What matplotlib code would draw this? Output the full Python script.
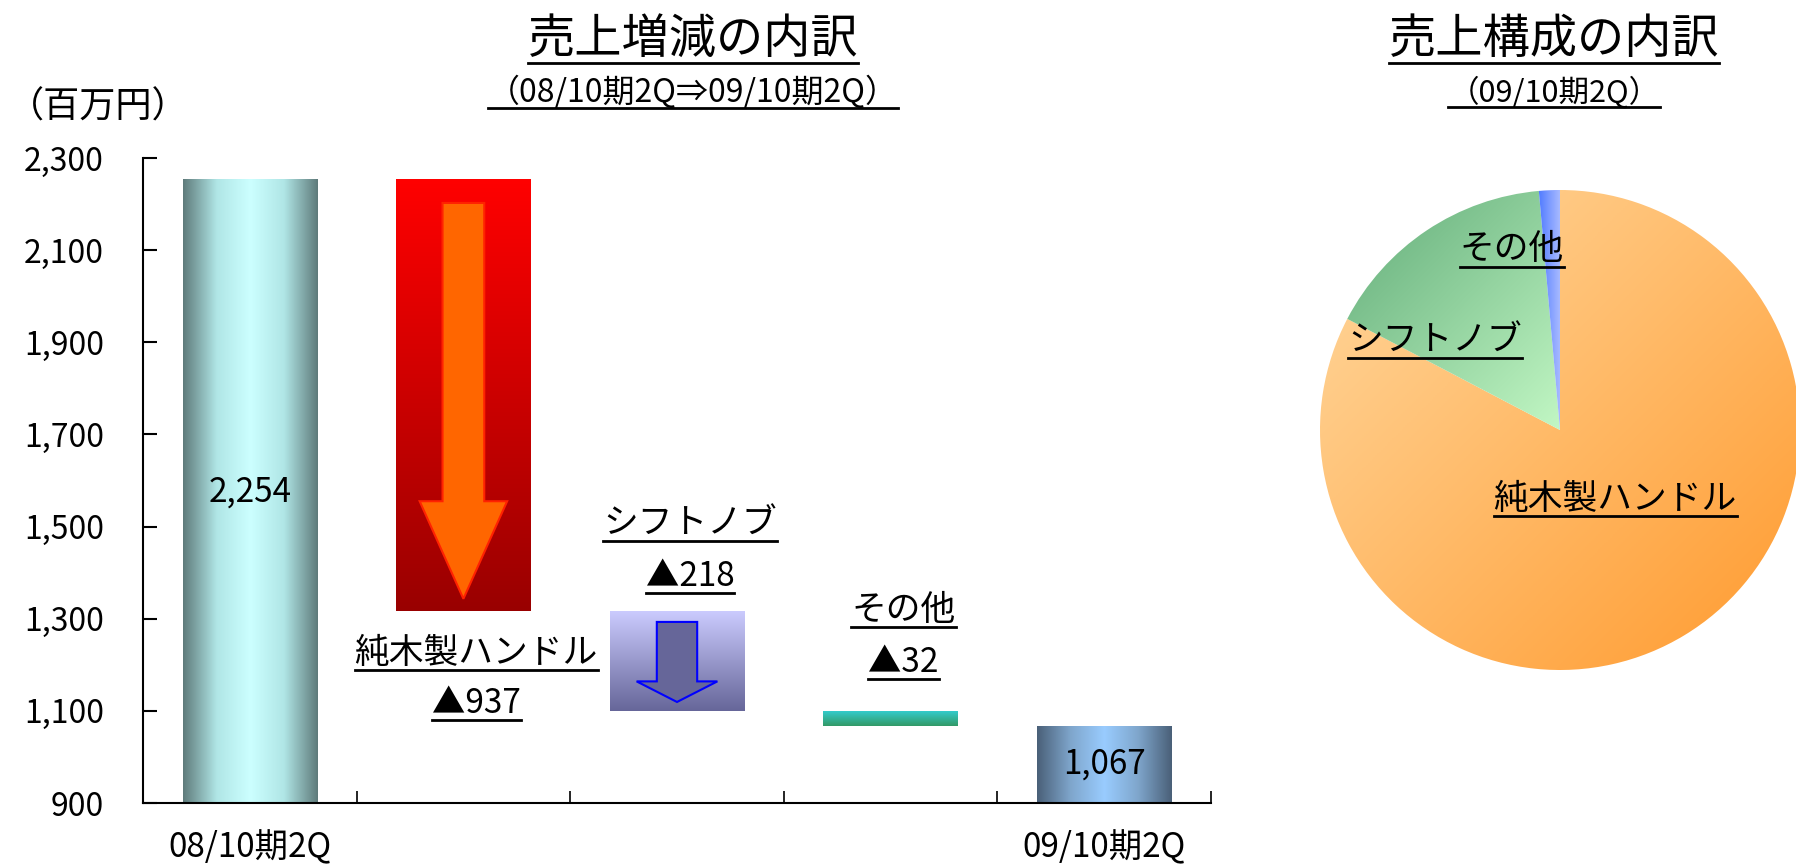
import numpy as np
import matplotlib.pyplot as plt
from matplotlib.colors import LinearSegmentedColormap
from matplotlib.patches import FancyArrow
from matplotlib.lines import Line2D

plt.rcParams['font.family'] = ['Noto Sans CJK JP', 'DejaVu Sans']

# waterfall data (百万円)
start_label = '08/10期2Q'
end_label = '09/10期2Q'
start_value = 2254
end_value = 1067
change_names = ['純木製ハンドル', 'シフトノブ', 'その他']
change_values = [-937, -218, -32]

# composition of 09/10期2Q
pie_names = ['純木製ハンドル', 'シフトノブ', 'その他']
pie_values = [882, 170, 15]

W, H = 1796, 865
fig = plt.figure(figsize=(W / 100, H / 100), dpi=100)
ax = fig.add_axes([143 / W, 1 - 803 / H, 1068 / W, (803 - 158) / H])

n = len(change_values) + 2
x = np.arange(n)
ymin, ymax = 900, 2300

# build bottoms / tops of floating bars
tops = [start_value]
bottoms = [0]
level = start_value
for v in change_values:
    tops.append(level)
    bottoms.append(level + v)
    level += v
tops.append(end_value)
bottoms.append(0)
tops = np.array(tops)
bottoms = np.array(bottoms)

bars = ax.bar(x, tops - bottoms, bottom=bottoms, width=0.63, color='none', zorder=2)


def grad_fill(patch, colors, horizontal=True, zorder=1):
    cmap = LinearSegmentedColormap.from_list('g', colors)
    if horizontal:
        img = np.linspace(0, 1, 256).reshape(1, -1)
    else:
        img = np.linspace(0, 1, 256).reshape(-1, 1)
    x0, y0 = patch.get_x(), patch.get_y()
    w, h = patch.get_width(), patch.get_height()
    im = ax.imshow(img, cmap=cmap, aspect='auto', origin='upper',
                   extent=[x0, x0 + w, max(y0, ymin), y0 + h], zorder=zorder,
                   interpolation='bilinear')
    im.set_clip_path(patch)


grad_fill(bars[0], ['#5f7b7b', '#b0e6e6', '#ccffff', '#b0e6e6', '#5f7b7b'])
grad_fill(bars[1], ['#ff0000', '#990000'], horizontal=False)
grad_fill(bars[2], ['#ccccff', '#666699'], horizontal=False)
grad_fill(bars[3], ['#33cccc', '#339966'], horizontal=False)
grad_fill(bars[4], ['#4a6078', '#7fa6cc', '#99ccff', '#7fa6cc', '#4a6078'])


def down_arrow(patch, top_off, bot_off, shaft, head, head_len, fc, ec):
    x0, y0 = patch.get_x(), patch.get_y()
    w, h = patch.get_width(), patch.get_height()
    cx = x0 + w / 2
    ystart = y0 + h - top_off * h
    yend = y0 + bot_off * h
    arr = FancyArrow(cx, ystart, 0, yend - ystart, width=shaft * w, head_width=head * w,
                     head_length=head_len * h, length_includes_head=True,
                     facecolor=fc, edgecolor=ec, linewidth=1.5, zorder=3)
    ax.add_patch(arr)


down_arrow(bars[1], 0.055, 0.028, 0.31, 0.65, 0.226, '#ff6600', '#ff2200')
down_arrow(bars[2], 0.11, 0.093, 0.30, 0.60, 0.205, '#666699', '#0000ff')

ax.set_xlim(-0.5, n - 0.5)
ax.set_ylim(ymin, ymax)
ax.set_yticks(np.arange(ymin, ymax + 1, 200))
ax.set_yticklabels([f'{v:,}' for v in np.arange(ymin, ymax + 1, 200)], fontsize=23)
ax.set_xticks(np.arange(n + 1) - 0.5)
ax.set_xticklabels([])
ax.tick_params(axis='y', direction='in', length=10, width=1.5, pad=28)
ax.tick_params(axis='x', direction='in', length=9, width=1.2)
for s in ['top', 'right']:
    ax.spines[s].set_visible(False)
ax.spines['left'].set_linewidth(1.5)
ax.spines['bottom'].set_linewidth(1.5)

# category labels under first and last bar
ax.text(0, -0.07, start_label, transform=ax.get_xaxis_transform(), ha='center', va='center', fontsize=24)
ax.text(n - 1, -0.07, end_label, transform=ax.get_xaxis_transform(), ha='center', va='center', fontsize=24)

# value labels inside bars
ax.text(0, 1575, f'{start_value:,}', ha='center', va='center', fontsize=24, zorder=4)
ax.text(n - 1, 985, f'{end_value:,}', ha='center', va='center', fontsize=24, zorder=4)

underlined = []
label_pos = [(1, 1225, 1115), (2, 1505, 1392), (3, 1317, 1205)]
for (xi, y1, y2), name, v in zip(label_pos, change_names, change_values):
    dx = 0.06
    underlined.append(ax.text(xi + dx, y1, name, ha='center', va='center', fontsize=25))
    underlined.append(ax.text(xi + dx, y2, f'▲{-v}', ha='center', va='center', fontsize=24))

# titles
underlined.append(fig.text(693 / W, 1 - 40 / H, '売上増減の内訳', ha='center', va='center', fontsize=34))
underlined.append(fig.text(693 / W, 1 - 92 / H, '（08/10期2Q⇒09/10期2Q）', ha='center', va='center', fontsize=23))
fig.text(8 / W, 1 - 108 / H, '（百万円）', ha='left', va='center', fontsize=26)
underlined.append(fig.text(1554 / W, 1 - 40 / H, '売上構成の内訳', ha='center', va='center', fontsize=34))
underlined.append(fig.text(1554 / W, 1 - 92 / H, '（09/10期2Q）', ha='center', va='center', fontsize=22))

# pie
pax = fig.add_axes([1320 / W, 1 - 670 / H, 480 / W, 480 / H])
wedges, _ = pax.pie(pie_values, startangle=90, counterclock=False, radius=1,
                    colors=['none'] * 3, wedgeprops=dict(linewidth=0))
pax.set_xlim(-1, 1)
pax.set_ylim(-1, 1)
pax.set_aspect('equal')
pax.axis('off')

diag = np.add.outer(np.linspace(0, 1, 256), np.linspace(0, 1, 256)) / 2
pie_cmaps = [
    (['#ffd9a0', '#ff9a2e'], diag, [-1, 1, -1, 1]),
    (['#5aa673', '#ccffcc'], diag, [-1.0, 0.1, -0.1, 1.02]),
    (['#3366ff', '#b3c2ff'], np.linspace(0, 1, 64).reshape(1, -1), [-0.12, 0.01, -0.02, 1.02]),
]
for wdg, (cols, img, ext) in zip(wedges, pie_cmaps):
    cmap = LinearSegmentedColormap.from_list('p', cols)
    im = pax.imshow(img, cmap=cmap, extent=ext, origin='upper', aspect='auto',
                    interpolation='bilinear', zorder=1)
    im.set_clip_path(wdg)

pie_label_pos = [(0.23, -0.29), (-0.52, 0.37), (-0.2, 0.75)]
for (px, py), name in zip(pie_label_pos, pie_names):
    underlined.append(pax.text(px, py, name, ha='center', va='center', fontsize=25, zorder=4))

# underline the labels
fig.canvas.draw()
r = fig.canvas.get_renderer()
for t in underlined:
    bb = t.get_window_extent(r)
    y = bb.y0 + 1
    fig.add_artist(Line2D([bb.x0 / W, bb.x1 / W], [y / H, y / H], transform=fig.transFigure,
                          color='black', linewidth=2))

fig.savefig('out.png', dpi=100)
